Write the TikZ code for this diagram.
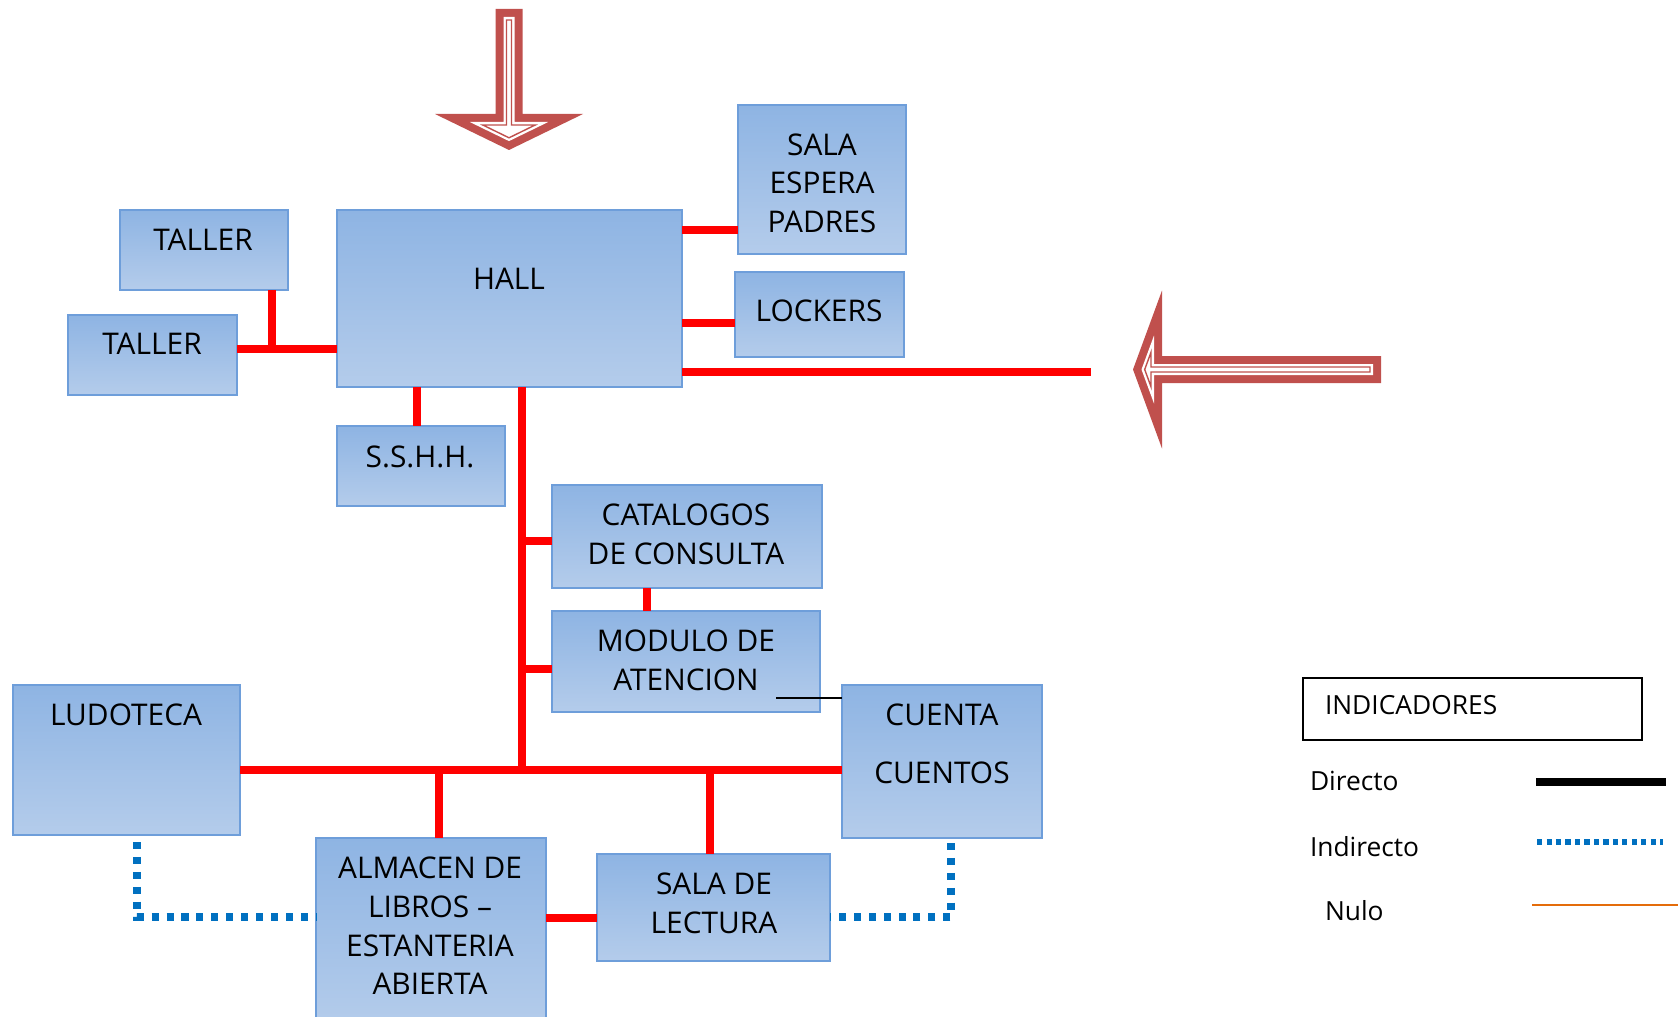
\documentclass[tikz,border=0pt]{standalone}
\usepackage{fontspec}
\setmainfont{Open Sans}
\usepackage{tikz}
\usetikzlibrary{fit,calc}
\definecolor{boxtop}{RGB}{142,180,227}
\definecolor{boxbot}{RGB}{180,204,235}
\definecolor{boxline}{RGB}{110,158,218}
\definecolor{flecha}{RGB}{192,80,77}
\definecolor{azul}{RGB}{0,112,192}
\definecolor{naranja}{RGB}{228,108,10}

\begin{document}
\begin{tikzpicture}[
  x=0.02cm, y=-0.02cm,
  every node/.style={inner sep=0pt, outer sep=0pt},
  caja/.style={rectangle, draw=boxline, line width=0.6pt, top color=boxtop, bottom color=boxbot},
  rotulo/.style={align=center, font=\fontsize{17}{22}\selectfont},
  leyenda/.style={font=\fontsize{15}{18}\selectfont},
  directo/.style={red, line width=4.3pt},
  indirecto/.style={azul, line width=4pt, dash pattern=on 4pt off 4.5pt}
]
  \useasboundingbox (0,0) rectangle (1678,1017);

  \fill[flecha] (495.5,9) -- (522.5,9) -- (522.5,114) -- (583,114) -- (509,150) -- (435,114) -- (495.5,114) -- cycle;
  \fill[white] (503.5,17) -- (514.5,17) -- (514.5,122) -- (548.2,122) -- (509,141.1) -- (469.8,122) -- (503.5,122) -- cycle;
  \draw[flecha, line width=0.8pt] (506.5,20) -- (511.5,20) -- (511.5,125) -- (535.2,125) -- (509,137.8) -- (482.8,125) -- (506.5,125) -- cycle;

  \fill[flecha] (1381,356) -- (1162,356) -- (1162,290.5) -- (1133,369.5) -- (1162,448.5) -- (1162,383) -- (1381,383) -- cycle;
  \fill[white] (1373,364) -- (1154,364) -- (1154,335.5) -- (1141.5,369.5) -- (1154,403.5) -- (1154,375) -- (1373,375) -- cycle;
  \draw[flecha, line width=0.8pt] (1370,367) -- (1151,367) -- (1151,352.3) -- (1144.7,369.5) -- (1151,386.7) -- (1151,372) -- (1370,372) -- cycle;

  \node[caja, fit={(120,210) (288,290)}] (taller1) {};
  \node[caja, fit={(68,315) (237,395)}] (taller2) {};
  \node[caja, fit={(337,210) (682,387)}] (hall) {};
  \node[caja, fit={(738,105) (906,254)}] (espera) {};
  \node[caja, fit={(735,272) (904,357)}] (lockers) {};
  \node[caja, fit={(337,426) (505,506)}] (sshh) {};
  \node[caja, fit={(552,485) (822,588)}] (catalogo) {};
  \node[caja, fit={(552,611) (820,712)}] (modulo) {};
  \node[caja, fit={(13,685) (240,835)}] (ludoteca) {};
  \node[caja, fit={(842,685) (1042,838)}] (cuentos) {};
  \node[caja, fit={(316,838) (546,1025)}] (almacen) {};
  \node[caja, fit={(597,854) (830,961)}] (lectura) {};

  \node[rotulo] (taller1-t) at (203,240) {TALLER};
  \node[rotulo] (taller2-t) at (152,344) {TALLER};
  \node[rotulo] (hall-t) at (509,279) {HALL};
  \node[rotulo] (espera-t) at (822,183) {SALA\\ESPERA\\PADRES};
  \node[rotulo] (lockers-t) at (819,311) {LOCKERS};
  \node[rotulo] (sshh-t) at (420,457) {S.S.H.H.};
  \node[rotulo] (catalogo-t) at (686,534) {CATALOGOS\\DE CONSULTA};
  \node[rotulo] (modulo-t) at (686,660) {MODULO DE\\ATENCION};
  \node[rotulo] (ludoteca-t) at (126,715) {LUDOTECA};
  \node[rotulo] (cuentos-t) at (942,744) {CUENTA\\[11pt]CUENTOS};
  \node[rotulo] (almacen-t) at (430,926) {ALMACEN DE\\LIBROS --\\ESTANTERIA\\ABIERTA};
  \node[rotulo] (lectura-t) at (714,903) {SALA DE\\LECTURA};

  \coordinate (tj) at (272,349);
  \draw[directo] (taller1.south -| tj) -- (tj);
  \draw[directo] (taller2.east |- tj) -- (hall.west |- tj);
  \draw[directo] (hall.east |- 0,230) -- (espera.west |- 0,230);
  \draw[directo] (hall.east |- 0,323) -- (lockers.west |- 0,323);
  \coordinate (entrada) at (1091,372);
  \draw[directo] (hall.east |- entrada) -- (entrada);
  \draw[directo] (hall.south -| 417,0) -- (sshh.north -| 417,0);
  \coordinate (eje) at (522,770);
  \draw[directo] (hall.south -| eje) -- (eje);
  \draw[directo] (eje |- 0,541) -- (catalogo.west |- 0,541);
  \draw[directo] (eje |- 0,669) -- (modulo.west |- 0,669);
  \draw[directo] (catalogo.south -| 647,0) -- (modulo.north -| 647,0);
  \draw[directo] (ludoteca.east |- eje) -- (cuentos.west |- eje);
  \draw[directo] (eje -| 439,0) -- (almacen.north -| 439,0);
  \draw[directo] (eje -| 710,0) -- (lectura.north -| 710,0);
  \draw[directo] (almacen.east |- 0,918) -- (lectura.west |- 0,918);
  \coordinate (m1) at (776,698);
  \draw[line width=0.6pt] (m1) -- (cuentos.west |- m1);

  \draw[indirecto] ($(ludoteca.south -| 137,0)+(0,7)$) |- (almacen.west |- 0,917);
  \draw[indirecto] ($(cuentos.south -| 951,0)+(0,5)$) |- (lectura.east |- 0,917);

  \node[draw, line width=1pt, fit={(1303,678) (1642,740)}] (indic) {};
  \node[leyenda, anchor=west] (indic-t) at (1325,705) {INDICADORES};
  \node[leyenda, anchor=west] (dir) at (1310,781) {Directo};
  \node[leyenda, anchor=west] (ind) at (1310,847) {Indirecto};
  \node[leyenda, anchor=west] (nulo) at (1325,911) {Nulo};
  \draw[line width=4.5pt] (1536,782) -- (1666,782);
  \draw[azul, line width=2.9pt, dash pattern=on 2.9pt off 2.5pt] (1537,842) -- (1663,842);
  \draw[naranja, line width=1pt] (1532,905) -- (1678,905);
\end{tikzpicture}
\end{document}
